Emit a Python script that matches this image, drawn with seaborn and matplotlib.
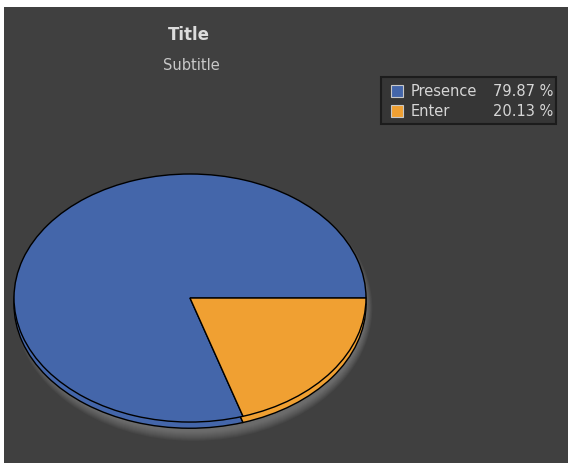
import matplotlib
matplotlib.use("Agg")
import matplotlib.pyplot as plt
from matplotlib.patches import Ellipse, Rectangle
import seaborn as sns

# data
labels = ["Presence", "Enter"]
values = [79.87, 20.13]
colors = ["#4466aa", "#f0a032"]
title = "Title"
subtitle = "Subtitle"

sns.set_theme(style="dark")
palette = sns.color_palette(colors)
bg = "#404040"

fig = plt.figure(figsize=(5.69, 4.63), dpi=100, facecolor="white")

# background panel + texts in pixel coordinates
base = fig.add_axes([0, 0, 1, 1], zorder=0)
base.set_xlim(0, 569)
base.set_ylim(463, 0)
base.axis("off")
base.add_patch(Rectangle((4, 7), 564, 456, facecolor=bg, edgecolor="none"))
base.text(189, 35, title, ha="center", va="center", fontsize=12,
          fontweight="bold", color="#dcdcdc")
base.text(191, 66, subtitle, ha="center", va="center", fontsize=10.5,
          color="#c8c8c8")

# legend box
base.add_patch(Rectangle((381, 77), 175, 47, facecolor="#363636",
                         edgecolor="#1c1c1c", lw=1.5))
for i, (lab, val) in enumerate(zip(labels, values)):
    y = 91 + i * 20
    base.add_patch(Rectangle((391, y - 6), 12, 12, facecolor=palette[i],
                             edgecolor="#c8c8c8", lw=0.8))
    base.text(411, y, lab, ha="left", va="center", fontsize=10.5, color="#d6d6d6")
    base.text(553, y, f"{val:.2f} %", ha="right", va="center", fontsize=10.5,
              color="#d6d6d6")

# pie (stretched to an ellipse)
ax = fig.add_axes([14 / 569, 3 / 463, 352 / 569, 286 / 463], zorder=1)
ax.patch.set_alpha(0)
ax.axis("off")

# soft shadow under the pie
for k in range(10):
    ax.add_patch(Ellipse((0.02, -0.08), 2 * (0.98 + 0.004 * k),
                         2 * (1.0 + 0.008 * k), facecolor="#a8a8a8",
                         edgecolor="none", alpha=0.06, zorder=0, clip_on=False))

wedge_kw = dict(edgecolor="black", linewidth=1.0)
# side (thickness)
ax.pie(values, colors=palette, startangle=0, center=(0, -0.05),
       wedgeprops=wedge_kw, frame=True)
# top face
ax.pie(values, colors=palette, startangle=0, center=(0, 0),
       wedgeprops=wedge_kw, frame=True)
ax.set_aspect("auto")
ax.set_xlim(-1, 1)
ax.set_ylim(-1.306, 1)
ax.axis("off")

fig.savefig("out.png", dpi=100, facecolor="white")
